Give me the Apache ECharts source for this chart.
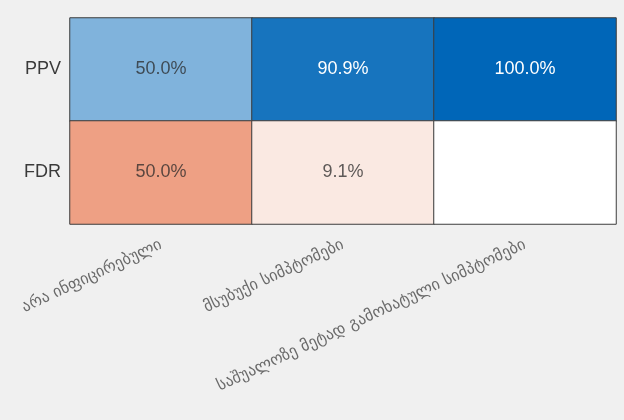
<!DOCTYPE html>
<html>
<head>
<meta charset="utf-8">
<script src="https://cdn.jsdelivr.net/npm/echarts@6/dist/echarts.min.js"></script>
<style>
  html, body { margin: 0; padding: 0; background: #f0f0f0; }
  #chart { width: 624px; height: 420px; }
</style>
</head>
<body>
<div id="chart"></div>
<script>
// Column classes and row metrics
const classes = ['არა ინფიცირებული', 'მსუბუქი სიმპტომები', 'საშუალოზე მეტად გამოხატული სიმპტომები'];
const metrics = ['PPV', 'FDR'];
// Percent values per class
const ppv = [50.0, 90.9, 100.0];
const fdr = [50.0, 9.1, 0.0];

const chart = echarts.init(document.getElementById('chart'), null, { renderer: 'canvas' });

function cells(values, rowIndex) {
  return values.map((v, i) => ({
    value: [i, rowIndex, v],
    label: { color: v > 70 ? '#ffffff' : 'rgba(40,40,40,0.75)' }
  }));
}

const labelFont = 'Liberation Sans, Arial, sans-serif';

chart.setOption({
  backgroundColor: '#f0f0f0',
  animation: false,
  grid: { left: 70, right: 8, top: 18, bottom: 196 },
  xAxis: {
    type: 'category',
    data: classes,
    position: 'bottom',
    axisLine: { show: false },
    axisTick: { show: false },
    splitArea: { show: false },
    axisLabel: {
      rotate: 25,
      margin: 20,
      interval: 0,
      color: '#6a6a6a',
      fontSize: 16,
      fontFamily: 'DejaVu Sans'
    }
  },
  yAxis: {
    type: 'category',
    data: metrics,
    inverse: true,
    axisLine: { show: false },
    axisTick: { show: false },
    axisLabel: {
      margin: 9,
      color: '#3a3a3a',
      fontSize: 18,
      fontFamily: labelFont
    }
  },
  visualMap: [
    {
      show: false, seriesIndex: 0, min: 0, max: 100, dimension: 2,
      inRange: { color: ['#ffffff', '#0066b8'] }
    },
    {
      show: false, seriesIndex: 1, min: 0, max: 100, dimension: 2,
      inRange: { color: ['#ffffff', '#f2c2b0', '#eea084', '#e06a40', '#d0400c'] }
    }
  ],
  series: [
    {
      name: 'PPV',
      type: 'heatmap',
      data: cells(ppv, 0),
      itemStyle: { borderColor: '#3c3c3c', borderWidth: 1 },
      label: {
        show: true,
        fontSize: 18,
        fontFamily: labelFont,
        formatter: p => p.value[2].toFixed(1) + '%'
      },
      emphasis: { disabled: true }
    },
    {
      name: 'FDR',
      type: 'heatmap',
      data: cells(fdr, 1),
      itemStyle: { borderColor: '#3c3c3c', borderWidth: 1 },
      label: {
        show: true,
        fontSize: 18,
        fontFamily: labelFont,
        formatter: p => p.value[2] > 0 ? p.value[2].toFixed(1) + '%' : ''
      },
      emphasis: { disabled: true }
    }
  ]
});
</script>
</body>
</html>
